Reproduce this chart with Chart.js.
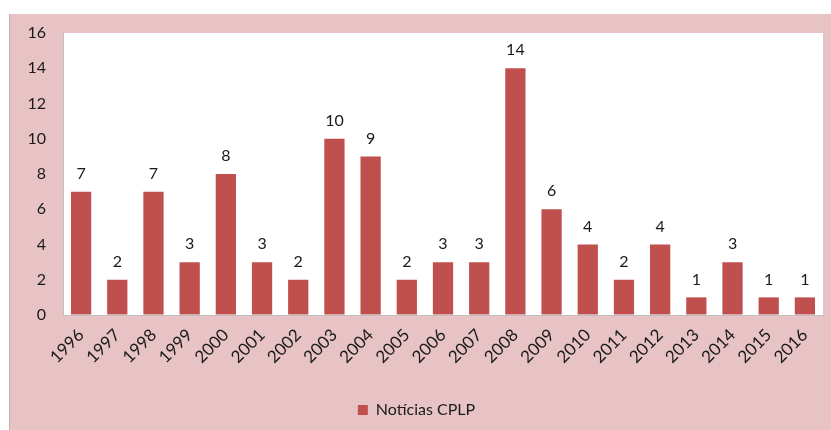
<!DOCTYPE html>
<html>
<head>
<meta charset="utf-8">
<script src="https://cdn.jsdelivr.net/npm/chart.js@4"></script>
<style>
  html, body { margin: 0; padding: 0; background: #fff; }
  #wrap {
    position: absolute; left: 9px; top: 14px; width: 822px; height: 416px;
    background: #e8c3c6;
    border-left: 1px solid #c9a9ab;
    box-sizing: border-box;
  }
</style>
</head>
<body>
<div id="wrap"><canvas id="chart"></canvas></div>
<script>
const years = ['1996','1997','1998','1999','2000','2001','2002','2003','2004','2005','2006',
  '2007','2008','2009','2010','2011','2012','2013','2014','2015','2016'];
const noticias = [7, 2, 7, 3, 8, 3, 2, 10, 9, 2, 3, 3, 14, 6, 4, 2, 4, 1, 3, 1, 1];
const yTicks = [0, 2, 4, 6, 8, 10, 12, 14, 16];

const FONT = 'Lato, "Open Sans", sans-serif';

// white plot area
const plotBg = {
  id: 'plotBg',
  beforeDraw(chart) {
    const { ctx, chartArea: a } = chart;
    ctx.save();
    ctx.fillStyle = '#ffffff';
    ctx.fillRect(a.left, a.top, a.right - a.left, a.bottom - a.top);
    ctx.restore();
  }
};

// value labels above bars
const valueLabels = {
  id: 'valueLabels',
  afterDatasetsDraw(chart) {
    const { ctx } = chart;
    const meta = chart.getDatasetMeta(0);
    ctx.save();
    ctx.font = '16px ' + FONT;
    ctx.fillStyle = '#1a1a1a';
    ctx.textAlign = 'center';
    ctx.textBaseline = 'bottom';
    meta.data.forEach((bar, i) => {
      ctx.fillText(noticias[i], bar.x, bar.y - 10);
    });
    ctx.restore();
  }
};

new Chart(document.getElementById('chart'), {
  type: 'bar',
  data: {
    labels: years,
    datasets: [{
      label: 'Notícias CPLP',
      data: noticias,
      backgroundColor: '#c0504d',
      barPercentage: 0.56,
      categoryPercentage: 1.0,
      borderWidth: 0
    }]
  },
  options: {
    responsive: true,
    maintainAspectRatio: false,
    animation: false,
    layout: { padding: { left: 0, right: 8, top: 19, bottom: 2 } },
    plugins: {
      legend: {
        position: 'bottom',
        labels: {
          boxWidth: 10, boxHeight: 10,
          color: '#1a1a1a',
          font: { size: 16, family: FONT },
          padding: 10
        }
      },
      tooltip: { enabled: false }
    },
    scales: {
      y: {
        min: 0, max: 16,
        afterBuildTicks(axis) { axis.ticks = yTicks.map(v => ({ value: v })); },
        afterFit(axis) { axis.width = 53; },
        grid: {
          drawOnChartArea: false, drawTicks: true, tickLength: 14,
          color: 'rgba(0,0,0,0)'
        },
        border: { display: true, color: '#bfbfbf' },
        ticks: {
          padding: 3,
          color: '#1a1a1a',
          font: { size: 16, family: FONT }
        }
      },
      x: {
        afterFit(axis) { axis.height = 77; },
        grid: { display: false, drawTicks: false },
        border: { display: true, color: '#bfbfbf' },
        ticks: {
          minRotation: 45, maxRotation: 45,
          padding: 10,
          color: '#1a1a1a',
          font: { size: 17, family: FONT }
        }
      }
    }
  },
  plugins: [plotBg, valueLabels]
});
</script>
</body>
</html>
